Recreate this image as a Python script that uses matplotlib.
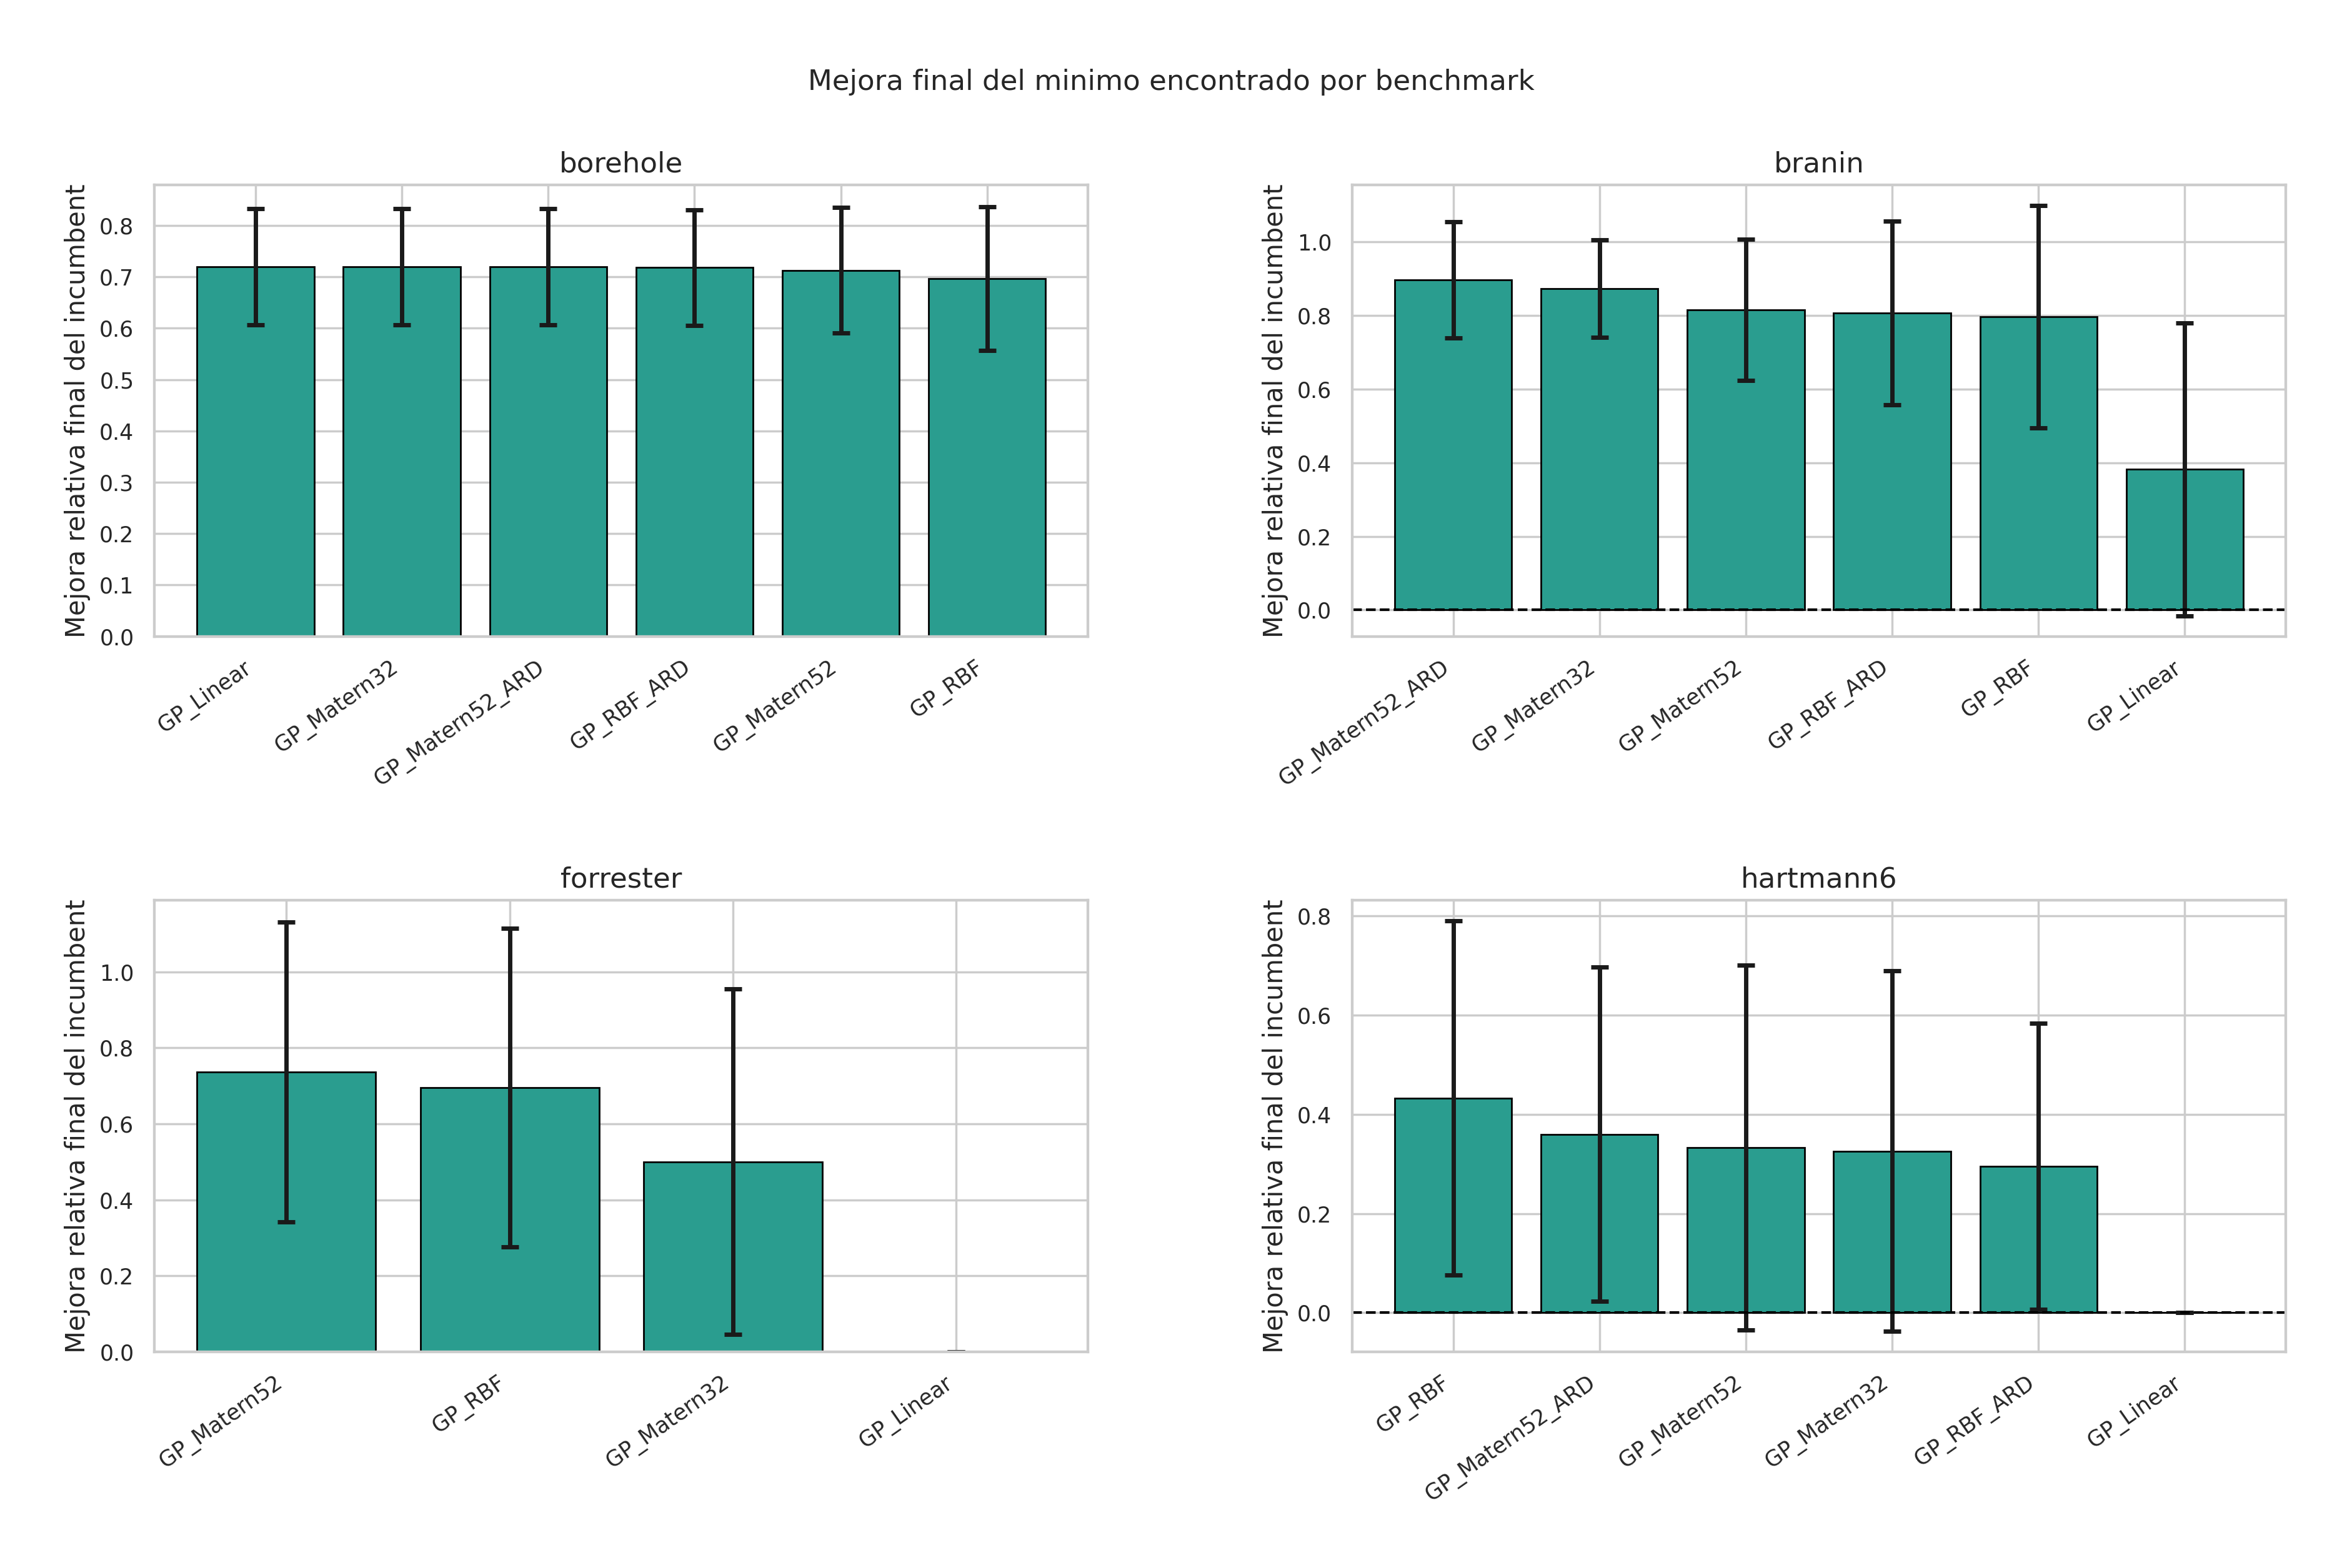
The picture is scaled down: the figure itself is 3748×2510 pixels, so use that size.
import matplotlib
matplotlib.use("Agg")
from matplotlib import pyplot as plt
import seaborn as sns

sns.set_theme(style="whitegrid")

bh_names = ["GP_Linear", "GP_Matern32", "GP_Matern52_ARD", "GP_RBF_ARD", "GP_Matern52", "GP_RBF"]
bh_vals = [0.720, 0.720, 0.720, 0.718, 0.713, 0.697]
bh_err = [0.113, 0.113, 0.113, 0.113, 0.122, 0.140]

br_names = ["GP_Matern52_ARD", "GP_Matern32", "GP_Matern52", "GP_RBF_ARD", "GP_RBF", "GP_Linear"]
br_vals = [0.897, 0.873, 0.815, 0.807, 0.797, 0.382]
br_err = [0.158, 0.133, 0.192, 0.250, 0.302, 0.398]

fo_names = ["GP_Matern52", "GP_RBF", "GP_Matern32", "GP_Linear"]
fo_vals = [0.737, 0.695, 0.500, 0.0]
fo_err = [0.395, 0.420, 0.455, 0.0]

ha_names = ["GP_RBF", "GP_Matern52_ARD", "GP_Matern52", "GP_Matern32", "GP_RBF_ARD", "GP_Linear"]
ha_vals = [0.433, 0.360, 0.333, 0.326, 0.295, 0.0]
ha_err = [0.357, 0.337, 0.368, 0.363, 0.288, 0.0]

panels = [("borehole", bh_names, bh_vals, bh_err, False),
          ("branin", br_names, br_vals, br_err, True),
          ("forrester", fo_names, fo_vals, fo_err, False),
          ("hartmann6", ha_names, ha_vals, ha_err, True)]

fig, axes = plt.subplots(2, 2, figsize=(14.992, 10.04), dpi=250)
plt.subplots_adjust(left=0.066, right=0.976, top=0.882, bottom=0.138, wspace=0.283, hspace=0.585)

for ax, (title, names, vals, err, dash) in zip(axes.flat, panels):
    x = range(len(names))
    ax.bar(x, vals, yerr=err, color="#2a9d8f", edgecolor="black", linewidth=0.8,
           capsize=4, error_kw=dict(elinewidth=2, capthick=2, ecolor="#1a1a1a"))
    if dash:
        ax.axhline(0, color="black", linestyle="--", linewidth=1.2)
    ax.set_xticks(list(x))
    ax.set_xticklabels(names, rotation=35, ha="right", fontsize=10)
    ax.tick_params(axis="y", labelsize=10)
    ax.set_title(title, fontsize=13)
    ax.set_ylabel("Mejora relativa final del incumbent", fontsize=12)

fig.suptitle("Mejora final del minimo encontrado por benchmark", fontsize=13, y=0.956)
fig.savefig("out.png", dpi=250)
